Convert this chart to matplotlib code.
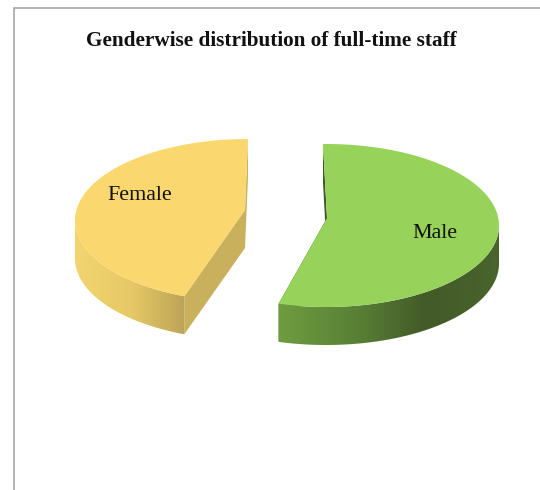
import numpy as np
import matplotlib
matplotlib.use("Agg")
import matplotlib.pyplot as plt
from matplotlib.colors import LinearSegmentedColormap
from matplotlib.patches import Polygon

# share of staff
labels = ["Female", "Male"]
values = [44.0, 54.7]
title = "Genderwise distribution of full-time staff"

plt.rcParams["font.family"] = ["Liberation Serif", "DejaVu Serif"]

W, H = 540, 490
A_X, A_Y = 173, 81.5  # ellipse half axes
DEPTH = 38

# slice placement, one entry per label (exploded apart)
centres = [(248, 220.5), (326, 225.5)]
apexes = [(245, 210), (327, 218)]
starts = [90, 91]
directions = [1, -1]
top_cols = ["#FBD86F", "#97D35B"]
cut_cols = ["#C9B05C", "#3F5A25"]
side_grads = [
    (["#F2D470", "#E6C966", "#BBA257"], (75, 187)),
    (["#6F9C40", "#5A8236", "#435A29", "#4A642D"], (279, 499)),
]


def rim(cx, cy, ang):
    r = np.radians(ang)
    # image y points down
    return np.column_stack([cx + A_X * np.cos(r), cy - A_Y * np.sin(r)])


fig = plt.figure(figsize=(W / 100, H / 100), dpi=100)
ax = fig.add_axes([0, 0, 1, 1])
ax.set_xlim(0, W)
ax.set_ylim(H, 0)
ax.axis("off")

# chart frame, open on the right and at the bottom
ax.plot([13.5, 13.5, W], [H, 8.5, 8.5], color="#A0A0A0", lw=1.1, solid_joinstyle="miter")

for i in range(len(labels)):
    cx, cy = centres[i]
    apex = np.array(apexes[i], dtype=float)
    a0 = starts[i]
    a1 = a0 + directions[i] * values[i] * 3.6
    angs = np.linspace(a0, a1, 200)
    arc = rim(cx, cy, angs)
    down = np.array([0, DEPTH])

    # both cut faces
    for p in (arc[0], arc[-1]):
        ax.add_patch(Polygon([p, apex, apex + down, p + down], closed=True,
                             fc=cut_cols[i], ec="none", zorder=2))

    # outer wall, only the front part of the rim shows
    front = arc[np.sin(np.radians(angs)) <= 0]
    wall = np.vstack([front, (front + down)[::-1]])
    cols, (x0, x1) = side_grads[i]
    cmap = LinearSegmentedColormap.from_list("wall", cols)
    im = ax.imshow(np.linspace(0, 1, 256).reshape(1, -1), cmap=cmap, aspect="auto",
                   extent=(x0, x1, H, 0), zorder=3)
    patch = Polygon(wall, closed=True, fc="none", ec="none", transform=ax.transData)
    ax.add_patch(patch)
    im.set_clip_path(patch)

    # top face
    ax.add_patch(Polygon(np.vstack([apex, arc]), closed=True,
                         fc=top_cols[i], ec="none", zorder=4))

ax.set_xlim(0, W)
ax.set_ylim(H, 0)

ax.text(140, 195, labels[0], fontsize=15.8, ha="center", va="center", color="#111111", zorder=5)
ax.text(434.5, 233, labels[1], fontsize=15.8, ha="center", va="center", color="#111111", zorder=5)
ax.text(271.5, 41, title, fontsize=15.3, fontweight="bold", ha="center", va="center", color="#111111")

fig.savefig("out.png", dpi=100)
